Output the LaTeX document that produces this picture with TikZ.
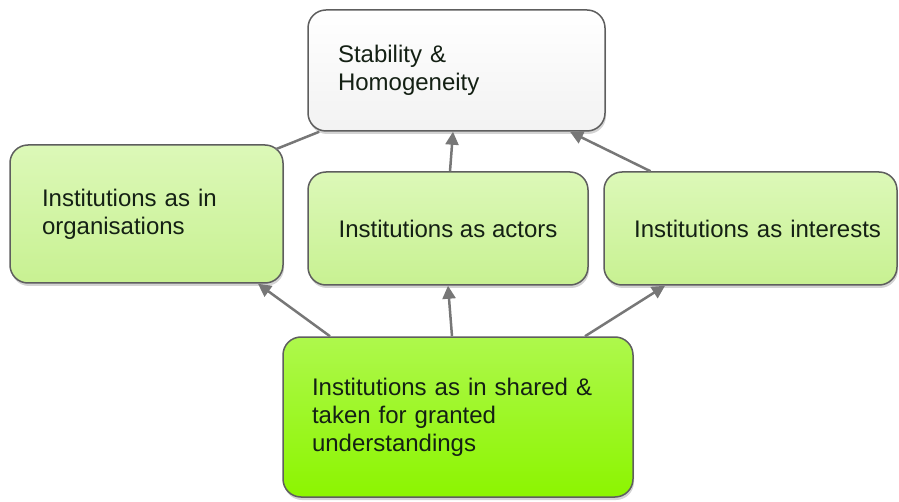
\documentclass[tikz,border=0pt]{standalone}
\usepackage{fontspec}
\setmainfont{Liberation Sans}
\usetikzlibrary{arrows.meta,shadows}

\definecolor{boxline}{HTML}{5E5E5E}
\definecolor{linkgrey}{HTML}{777777}
\definecolor{paletop}{HTML}{DCF8B8}
\definecolor{palebot}{HTML}{C8F192}
\definecolor{brighttop}{HTML}{AEF84C}
\definecolor{brightbot}{HTML}{8CF500}
\definecolor{inktext}{HTML}{142014}

\tikzset{
  box/.style={draw=boxline, line width=1.5pt, rounded corners=18pt,
    inner ysep=0pt, align=left, text=inktext,
    font=\fontsize{24}{28}\selectfont,
    drop shadow={shadow xshift=1pt, shadow yshift=-3pt, opacity=0.35}},
  whitebox/.style={box, top color=white, bottom color=gray!10},
  palebox/.style={box, top color=paletop, bottom color=palebot},
  brightbox/.style={box, top color=brighttop, bottom color=brightbot},
  link/.style={draw=linkgrey, line width=2.5pt},
  arr/.style={link, -{Triangle[length=13pt,width=13pt]}}
}

\begin{document}
\begin{tikzpicture}
\useasboundingbox (0,0) rectangle (899pt,501pt);

\node[whitebox, text width=237pt, inner xsep=30pt, minimum height=121pt] (stab) at (456.5pt,430.5pt)
  {Stability \&\\Homogeneity};

\node[palebox, text width=209pt, inner xsep=32pt, minimum height=138pt] (org) at (146.5pt,287pt)
  {Institutions as in\\organisations};
\node[palebox, align=center, minimum width=280pt, minimum height=113pt] (act) at (448pt,272.5pt)
  {Institutions as actors};
\node[palebox, align=right, text width=261pt, inner xsep=16pt, minimum height=113pt] (intr) at (750.5pt,272.5pt)
  {Institutions as interests};

\node[brightbox, text width=292pt, inner xsep=29pt, minimum height=160pt] (shared) at (458pt,84pt)
  {Institutions as in shared \&\\taken for granted\\understandings};

% links up to the top box
\draw[link] ([xshift=-8pt,yshift=-5pt]org.north east) -- ([xshift=12pt]stab.south west);
\draw[arr] ([xshift=2pt]act.north) -- ([xshift=-3.5pt]stab.south);
\draw[arr] ([xshift=-100pt]intr.north) -- ([xshift=113.5pt]stab.south);

% links from the bottom box
\draw[arr] ([xshift=-128pt]shared.north) -- ([xshift=111.5pt]org.south);
\draw[arr] ([xshift=-6pt]shared.north) -- (act.south);
\draw[arr] ([xshift=127pt]shared.north) -- ([xshift=-85.5pt]intr.south);
\end{tikzpicture}
\end{document}
